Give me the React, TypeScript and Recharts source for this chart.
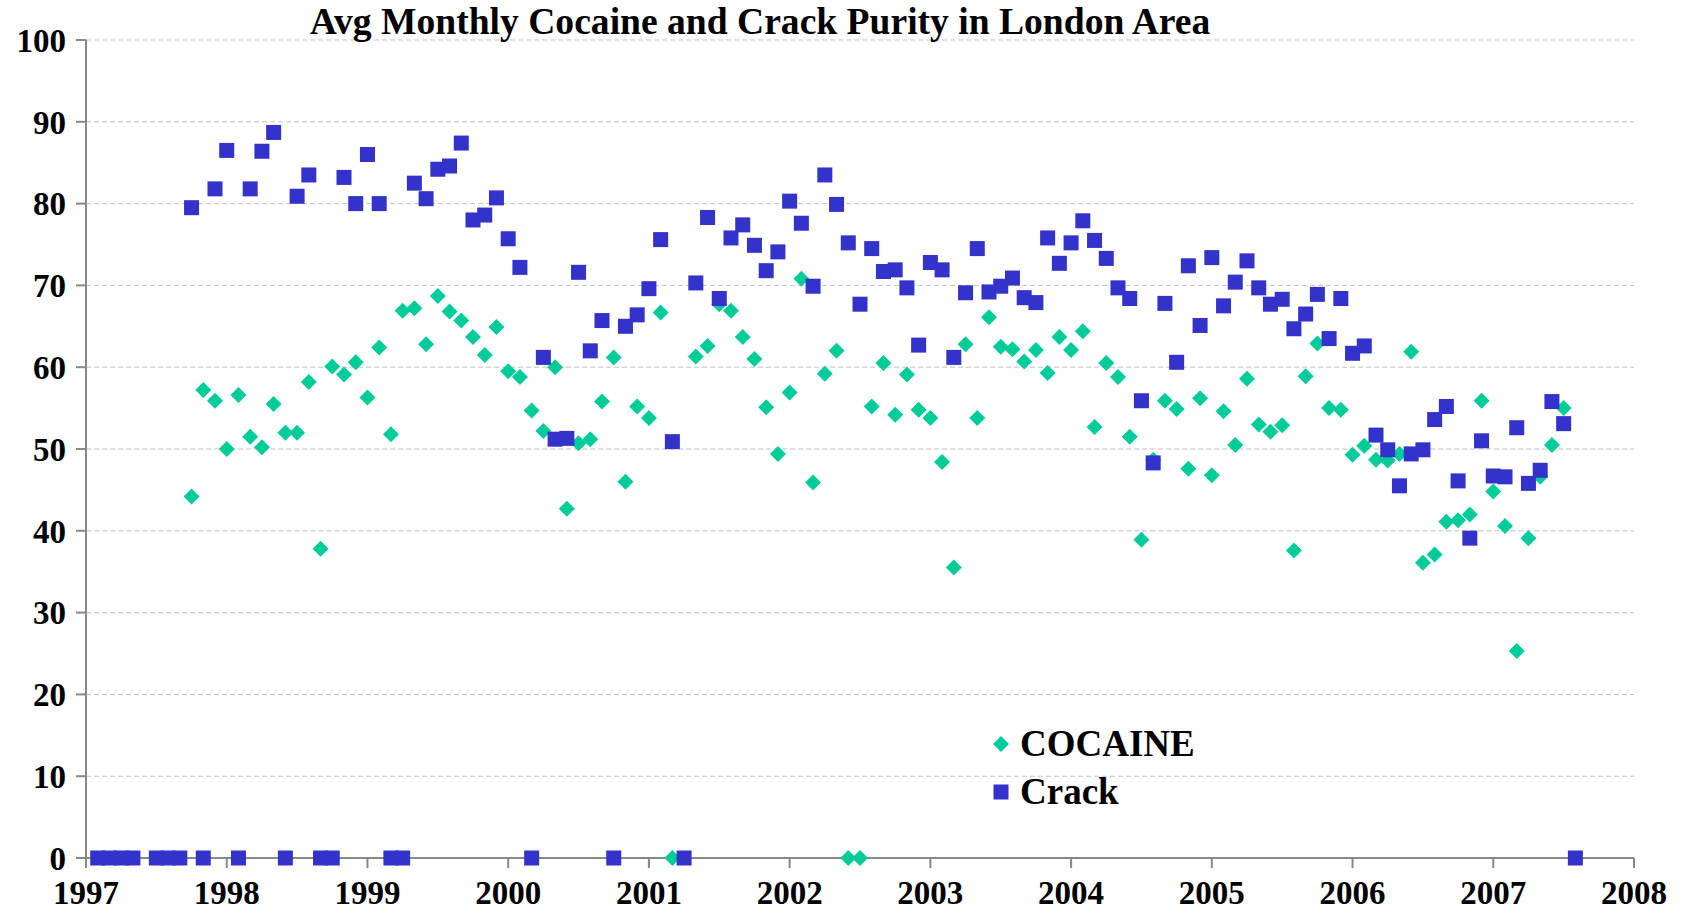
import { ScatterChart, Scatter, XAxis, YAxis, CartesianGrid } from 'recharts';

// monthly averages, Jan 1997 = first entry; null = no sample that month
const crackPurity: (number | null)[] = [
  0, 0, 0, 0, null, 0, 0, 0, 79.5, 0, 81.8, 86.5,
  0, 81.8, 86.4, 88.7, 0, 80.9, 83.5, 0, 0, 83.2, 80.0, 86.0,
  80.0, 0, 0, 82.5, 80.6, 84.2, 84.6, 87.4, 78.0, 78.6, 80.7, 75.7,
  72.2, 0, 61.2, 51.2, 51.3, 71.6, 62.0, 65.7, 0, 65.0, 66.4, 69.6,
  75.6, 50.9, 0, 70.3, 78.3, 68.4, 75.8, 77.4, 74.9, 71.8, 74.1, 80.3,
  77.6, 69.9, 83.5, 79.9, 75.2, 67.7, 74.5, 71.7, 71.9, 69.7, 62.7, 72.8,
  71.9, 61.2, 69.1, 74.5, 69.2, 69.9, 70.9, 68.5, 67.9, 75.8, 72.7, 75.2,
  77.9, 75.5, 73.3, 69.7, 68.4, 55.9, 48.3, 67.8, 60.6, 72.4, 65.1, 73.4,
  67.5, 70.4, 73.0, 69.7, 67.7, 68.3, 64.7, 66.5, 68.9, 63.5, 68.4, 61.7,
  62.6, 51.7, 49.9, 45.5, 49.4, 49.9, 53.6, 55.2, 46.1, 39.1, 51.0, 46.7,
  46.6, 52.6, 45.8, 47.4, 55.8, 53.1, 0,
];

const cocainePurity: (number | null)[] = [
  null, null, null, null, null, null, null, null, 44.2, 57.2, 55.9, 50.0,
  56.6, 51.5, 50.2, 55.5, 52.0, 52.0, 58.2, 37.8, 60.1, 59.1, 60.6, 56.3,
  62.4, 51.8, 66.9, 67.2, 62.8, 68.7, 66.8, 65.7, 63.7, 61.5, 64.9, 59.5,
  58.8, 54.7, 52.2, 60.0, 42.7, 50.7, 51.2, 55.8, 61.2, 46.0, 55.2, 53.8,
  66.7, 0, null, 61.3, 62.6, 67.7, 66.9, 63.7, 61.0, 55.1, 49.4, 56.9,
  70.8, 45.9, 59.2, 62.0, 0, 0, 55.2, 60.5, 54.2, 59.1, 54.8, 53.8,
  48.4, 35.5, 62.8, 53.8, 66.1, 62.5, 62.2, 60.7, 62.1, 59.3, 63.7, 62.1,
  64.4, 52.7, 60.5, 58.8, 51.5, 38.9, 48.7, 55.9, 54.9, 47.6, 56.2, 46.8,
  54.6, 50.5, 58.6, 53.0, 52.1, 52.9, 37.6, 58.9, 62.9, 55.0, 54.8, 49.3,
  50.4, 48.7, 48.6, 49.4, 61.9, 36.1, 37.1, 41.1, 41.3, 42.0, 55.9, 44.8,
  40.6, 25.3, 39.1, 46.6, 50.5, 55.0,
];

const firstYear = 1997;
const years = [1997, 1998, 1999, 2000, 2001, 2002, 2003, 2004, 2005, 2006, 2007, 2008];
const purityTicks = [0, 10, 20, 30, 40, 50, 60, 70, 80, 90, 100];

const COCAINE = '#00cc99';
const CRACK = '#3333cc';
const FONT = "'Times New Roman', 'Liberation Serif', serif";

const toPoints = (values: (number | null)[]) =>
  values
    .map((v, i) => (v === null ? null : { x: i + 1, y: v }))
    .filter((p): p is { x: number; y: number } => p !== null);

const cocaineData = toPoints(cocainePurity);
const crackData = toPoints(crackPurity);

const DiamondShape = (props: any) => {
  const { cx, cy } = props;
  const r = 8;
  return (
    <polygon
      points={`${cx},${cy - r} ${cx + r},${cy} ${cx},${cy + r} ${cx - r},${cy}`}
      fill={COCAINE}
    />
  );
};

const SquareShape = (props: any) => {
  const { cx, cy } = props;
  return <rect x={cx - 7.5} y={cy - 7.5} width={15} height={15} fill={CRACK} />;
};

const tickStyle = { fontFamily: FONT, fontSize: 33, fontWeight: 700, fill: '#000' };

export default function App() {
  return (
    <div style={{ position: 'absolute', left: 0, top: 0, width: 1683, height: 914, background: '#fff' }}>
      <ScatterChart
        width={1683}
        height={914}
        margin={{ top: 40, right: 49, bottom: 0, left: 0 }}
      >
        <CartesianGrid vertical={false} stroke="#c0c0c0" strokeDasharray="5 3" />
        <XAxis
          type="number"
          dataKey="x"
          domain={[0, 132]}
          ticks={years.map(y => (y - firstYear) * 12)}
          tickFormatter={(v: number) => String(firstYear + v / 12)}
          interval={0}
          height={56}
          tickSize={10}
          tickMargin={13}
          stroke="#888"
          strokeWidth={2}
          tick={tickStyle}
        />
        <YAxis
          type="number"
          dataKey="y"
          domain={[0, 100]}
          ticks={purityTicks}
          interval={0}
          width={86}
          tickSize={10}
          tickMargin={10}
          stroke="#888"
          strokeWidth={2}
          tick={tickStyle}
        />
        <Scatter name="COCAINE" data={cocaineData} shape={<DiamondShape />} isAnimationActive={false} />
        <Scatter name="Crack" data={crackData} shape={<SquareShape />} isAnimationActive={false} />
      </ScatterChart>

      <svg
        width={1683}
        height={914}
        style={{ position: 'absolute', left: 0, top: 0, pointerEvents: 'none' }}
      >
        <text x={760} y={34} textAnchor="middle" fontFamily={FONT} fontSize={37.6} fontWeight={700}>
          Avg Monthly Cocaine and Crack Purity in London Area
        </text>
        <polygon points="1001,736 1009,744 1001,752 993,744" fill={COCAINE} />
        <text x={1020} y={756} fontFamily={FONT} fontSize={37} fontWeight={700}>
          COCAINE
        </text>
        <rect x={993.5} y={784.5} width={15} height={15} fill={CRACK} />
        <text x={1020} y={804} fontFamily={FONT} fontSize={37} fontWeight={700}>
          Crack
        </text>
      </svg>
    </div>
  );
}
